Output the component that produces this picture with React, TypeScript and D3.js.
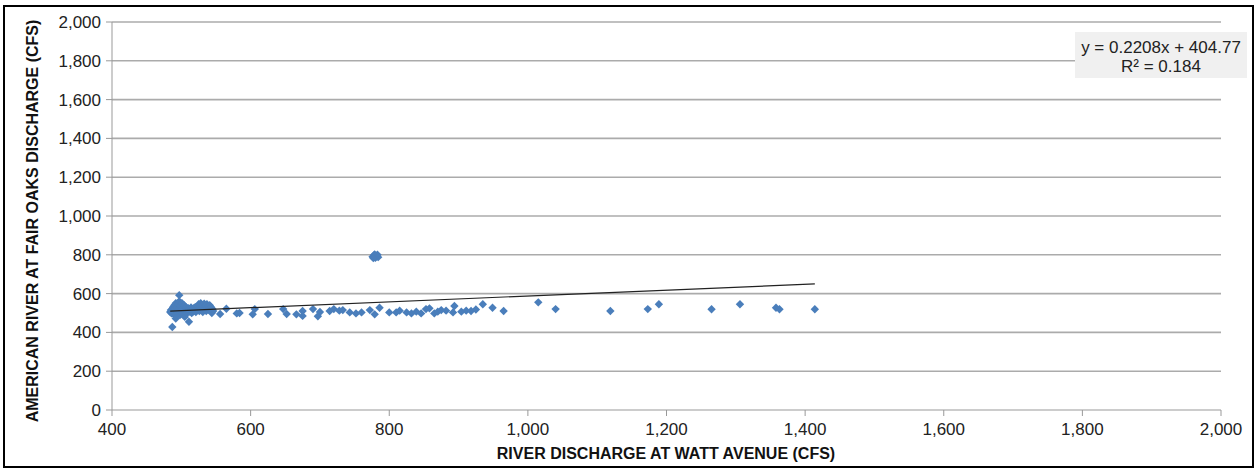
import React from "react";
import * as d3 from "d3";

const W = 1257;
const H = 471;

const xTicks = [400, 600, 800, 1000, 1200, 1400, 1600, 1800, 2000];
const yTicks = [0, 200, 400, 600, 800, 1000, 1200, 1400, 1600, 1800, 2000];

const xTitle = "RIVER DISCHARGE AT WATT AVENUE (CFS)";
const yTitle = "AMERICAN RIVER AT FAIR OAKS DISCHARGE (CFS)";
const equationLines = ["y = 0.2208x + 404.77", "R² = 0.184"];

// dense low-flow cluster
const clusterPoints: [number, number][] = [
  [484, 505], [485, 515], [486, 498], [487, 520], [488, 510], [488, 530], [489, 495], [490, 540],
  [490, 505], [491, 520], [492, 550], [492, 485], [493, 512], [494, 530], [495, 500], [495, 545],
  [496, 520], [497, 560], [498, 490], [498, 508], [499, 535], [500, 515], [501, 550], [502, 498],
  [503, 525], [504, 540], [505, 505], [505, 480], [506, 520], [507, 530], [508, 500], [492, 472],
  [509, 515], [510, 525], [511, 505], [512, 520], [513, 510], [514, 528], [515, 500], [516, 518],
  [517, 508], [518, 525], [519, 512], [520, 530], [521, 505], [522, 520], [523, 515], [524, 535],
  [525, 545], [526, 510], [527, 528], [528, 550], [529, 518], [530, 540], [531, 505], [532, 532],
  [533, 548], [534, 520], [535, 538], [536, 510], [537, 545], [538, 525], [539, 535], [540, 515],
  [541, 540], [542, 525], [543, 530], [545, 520], [546, 510], [544, 500],
  [497, 592], [487, 428], [511, 455],
];

// group near 780 cfs
const highPoints: [number, number][] = [
  [776, 790], [778, 798], [780, 785], [781, 795], [782, 792], [784, 788], [779, 802], [783, 800], [777, 783],
];

// scattered points across the range
const spreadPoints: [number, number][] = [
  [556, 495], [565, 522], [580, 498], [584, 500], [603, 493], [606, 520], [625, 495], [647, 520],
  [652, 495], [666, 493], [675, 510], [675, 485], [690, 520], [697, 483], [700, 505], [714, 510],
  [720, 520], [728, 512], [733, 515], [743, 503], [752, 498], [760, 503], [772, 515], [779, 493],
  [786, 527], [800, 503], [810, 503], [815, 512], [825, 503], [832, 498], [839, 507], [846, 498],
  [853, 520], [858, 524], [865, 498], [870, 507], [875, 515], [882, 512], [892, 503], [894, 536],
  [904, 507], [911, 512], [918, 510], [925, 518], [935, 545], [949, 527], [965, 510], [1015, 555],
  [1040, 520], [1119, 510], [1173, 520], [1189, 545], [1265, 519], [1306, 545], [1358, 527],
  [1363, 519], [1414, 519],
];

const trendLine: [number, number][] = [
  [484, 510],
  [1414, 650],
];

export default function App() {
  const x = d3.scaleLinear().domain([400, 2000]).range([112, 1221]);
  const y = d3.scaleLinear().domain([0, 2000]).range([410, 22]);
  const allPoints = [...clusterPoints, ...highPoints, ...spreadPoints];
  const diamond = (cx: number, cy: number) =>
    `M${cx},${cy - 4.2}L${cx + 4.2},${cy}L${cx},${cy + 4.2}L${cx - 4.2},${cy}Z`;
  const line = d3
    .line<[number, number]>()
    .x((d) => x(d[0]))
    .y((d) => y(d[1]));
  const font = "Arial, 'Liberation Sans', sans-serif";
  const fmt = d3.format(",");

  return (
    <svg
      width={W}
      height={H}
      style={{ position: "absolute", left: 0, top: 0, background: "#fff" }}
      fontFamily={font}
    >
      <rect x={0} y={0} width={W} height={H} fill="#fff" />
      <rect x={4} y={6} width={1249} height={461} fill="none" stroke="#000" strokeWidth={2} />
      {/* gridlines */}
      {yTicks.map((t) => (
        <g key={"gy" + t}>
          {t > 0 && (
            <line x1={112} x2={1221} y1={y(t)} y2={y(t)} stroke="#ababab" strokeWidth={1.6} />
          )}
          <line x1={106} x2={112} y1={y(t)} y2={y(t)} stroke="#999" strokeWidth={1} />
          <text x={101} y={y(t)} dy="0.35em" textAnchor="end" fontSize={17} fill="#222">
            {fmt(t)}
          </text>
        </g>
      ))}
      <line x1={112} x2={112} y1={y(2000)} y2={y(0)} stroke="#999" strokeWidth={1} />
      <line x1={112} x2={1221} y1={y(0)} y2={y(0)} stroke="#999" strokeWidth={1} />
      {xTicks.map((t) => (
        <g key={"gx" + t}>
          <line x1={x(t)} x2={x(t)} y1={410} y2={416} stroke="#999" strokeWidth={1} />
          <text x={x(t)} y={435} textAnchor="middle" fontSize={17} fill="#222">
            {fmt(t)}
          </text>
        </g>
      ))}
      {/* points */}
      {allPoints.map((p, i) => (
        <path key={i} d={diamond(x(p[0]), y(p[1]))} fill="#4A7EBB" />
      ))}
      <path d={line(trendLine) || ""} stroke="#222" strokeWidth={1.2} fill="none" />
      {/* equation box */}
      <rect x={1075} y={32} width={172} height={46} fill="#f0f0f0" />
      <text x={1161} y={53} textAnchor="middle" fontSize={17} fill="#222">
        {equationLines[0]}
      </text>
      <text x={1161} y={72} textAnchor="middle" fontSize={17} fill="#222">
        {equationLines[1]}
      </text>
      {/* axis titles */}
      <text x={666} y={459} textAnchor="middle" fontSize={16} fontWeight="bold" fill="#111">
        {xTitle}
      </text>
      <text
        transform={`translate(38,221) rotate(-90)`}
        textAnchor="middle"
        fontSize={16}
        fontWeight="bold"
        fill="#111"
      >
        {yTitle}
      </text>
    </svg>
  );
}
